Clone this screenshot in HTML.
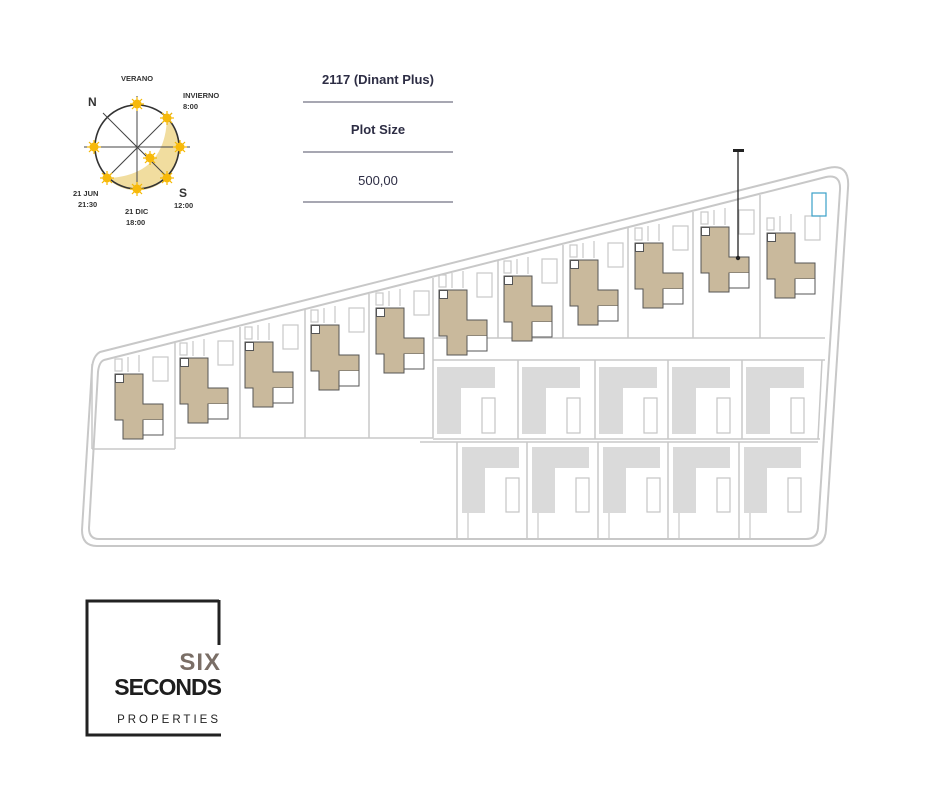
<!DOCTYPE html>
<html><head><meta charset="utf-8"><style>
html,body{margin:0;padding:0;background:#fff;}
svg{display:block;}
text{font-family:"Liberation Sans",sans-serif;}
</style></head><body>
<svg width="940" height="788" viewBox="0 0 940 788" xmlns="http://www.w3.org/2000/svg">
<defs>
<g id="sun">
<g stroke="#f5b800" stroke-width="1.2">
<line x1="-7" y1="0" x2="7" y2="0"/><line x1="0" y1="-7" x2="0" y2="7"/>
<line x1="-5" y1="-5" x2="5" y2="5"/><line x1="-5" y1="5" x2="5" y2="-5"/>
</g>
<circle r="4.5" fill="#f7b90a"/>
</g>
<g id="house">
<g fill="none" stroke="#c8c8c8" stroke-width="1.2">
<rect x="0" y="-15" width="7" height="12"/>
<line x1="13" y1="-17" x2="13" y2="-2"/>
<line x1="24" y1="-19" x2="24" y2="-2"/>
<rect x="38" y="-17" width="15" height="24"/>
</g>
<polygon points="0,0 28,0 28,30 48,30 48,46 28,46 28,65 8,65 8,46 0,46" fill="#c9b99c" stroke="#555" stroke-width="1"/>
<polyline points="28,46 28,61 48,61 48,46" fill="#fff" stroke="#555" stroke-width="1"/>
<rect x="0.5" y="0.5" width="8" height="8" fill="#fff" stroke="#555" stroke-width="1"/>
</g>
<g id="ga">
<rect x="4" y="367" width="58" height="67" fill="#dadada"/>
<rect x="28" y="388" width="34" height="46" fill="#fff"/>
<rect x="49" y="398" width="13" height="35" fill="none" stroke="#c4c4c4" stroke-width="1.2"/>
</g>
<g id="gb">
<rect x="5" y="447" width="57" height="66" fill="#dadada"/>
<rect x="28" y="468" width="34" height="45" fill="#fff"/>
<rect x="49" y="478" width="13" height="34" fill="none" stroke="#c4c4c4" stroke-width="1.2"/>
<line x1="11" y1="513" x2="11" y2="538" stroke="#c8c8c8" stroke-width="1.2"/>
</g>
</defs>

<!-- sun diagram -->
<path d="M167,118 A42,42 0 0 1 107,178 Q165,176 167,118 Z" fill="#f1dd9f"/>
<circle cx="137" cy="147" r="42" fill="none" stroke="#333" stroke-width="1.6"/>
<g stroke="#444" stroke-width="1">
<line x1="84" y1="147" x2="190" y2="147"/>
<line x1="137" y1="96" x2="137" y2="190"/>
<line x1="103" y1="113" x2="170" y2="180"/>
<line x1="107" y1="178" x2="172" y2="113"/>
</g>
<use href="#sun" x="137" y="104"/><use href="#sun" x="167" y="118"/>
<use href="#sun" x="180" y="147"/><use href="#sun" x="150" y="158"/>
<use href="#sun" x="167" y="178"/><use href="#sun" x="137" y="189"/>
<use href="#sun" x="107" y="178"/><use href="#sun" x="94" y="147"/>
<g font-size="7.5" font-weight="bold" fill="#333">
<text x="121" y="81">VERANO</text>
<text x="183" y="98">INVIERNO</text>
<text x="183" y="109">8:00</text>
<text x="73" y="196">21 JUN</text>
<text x="78" y="207">21:30</text>
<text x="125" y="214">21 DIC</text>
<text x="126" y="225">18:00</text>
<text x="174" y="208">12:00</text>
</g>
<text x="88" y="106" font-size="12" font-weight="bold" fill="#333">N</text>
<text x="179" y="197" font-size="12" font-weight="bold" fill="#333">S</text>

<!-- table -->
<g font-size="13" fill="#2d2d44" text-anchor="middle">
<text x="378" y="84" font-weight="bold">2117 (Dinant Plus)</text>
<text x="378" y="134" font-weight="bold">Plot Size</text>
<text x="378" y="185">500,00</text>
</g>
<g stroke="#8a8a98" stroke-width="1.5">
<line x1="303" y1="102" x2="453" y2="102"/>
<line x1="303" y1="152" x2="453" y2="152"/>
<line x1="303" y1="202" x2="453" y2="202"/>
</g>

<!-- site outline -->
<g fill="none" stroke="#c8c8c8" stroke-width="2">
<path d="M100,352 L828,168 Q850,163 848,188 L826,530 Q825,546 810,546 L97,546 Q82,546 82,530 L92,368 Q93,356 100,352 Z"/>
<path d="M104,360 L826,177 Q841,174 840,190 L818,528 Q817,539 806,539 L99,539 Q89,539 89,528 L98,372 Q99,362 104,360 Z"/>
</g>
<!-- plot lines -->
<g stroke="#c8c8c8" stroke-width="1.5" fill="none">
<line x1="92" y1="364" x2="92" y2="449"/>
<line x1="175" y1="343" x2="175" y2="449"/>
<line x1="240" y1="327" x2="240" y2="438"/>
<line x1="305" y1="310" x2="305" y2="438"/>
<line x1="369" y1="294" x2="369" y2="438"/>
<line x1="433" y1="278" x2="433" y2="438"/>
<line x1="498" y1="261" x2="498" y2="338"/>
<line x1="563" y1="245" x2="563" y2="338"/>
<line x1="628" y1="228" x2="628" y2="338"/>
<line x1="693" y1="212" x2="693" y2="338"/>
<line x1="760" y1="195" x2="760" y2="338"/>
<line x1="92" y1="449" x2="175" y2="449"/>
<line x1="175" y1="438" x2="433" y2="438"/>
<line x1="433" y1="338" x2="825" y2="338"/>
<line x1="433" y1="360" x2="825" y2="360"/>
<line x1="433" y1="439" x2="820" y2="439"/>
<line x1="518" y1="360" x2="518" y2="439"/>
<line x1="595" y1="360" x2="595" y2="439"/>
<line x1="668" y1="360" x2="668" y2="439"/>
<line x1="742" y1="360" x2="742" y2="439"/>
<line x1="822" y1="360" x2="818" y2="439"/>
<line x1="420" y1="442" x2="818" y2="442"/>
<line x1="457" y1="442" x2="457" y2="538"/>
<line x1="527" y1="442" x2="527" y2="538"/>
<line x1="598" y1="442" x2="598" y2="538"/>
<line x1="668" y1="442" x2="668" y2="538"/>
<line x1="739" y1="442" x2="739" y2="538"/>
</g>

<!-- tan houses -->
<use href="#house" x="115" y="374"/>
<use href="#house" x="180" y="358"/>
<use href="#house" x="245" y="342"/>
<use href="#house" x="311" y="325"/>
<use href="#house" x="376" y="308"/>
<use href="#house" x="439" y="290"/>
<use href="#house" x="504" y="276"/>
<use href="#house" x="570" y="260"/>
<use href="#house" x="635" y="243"/>
<use href="#house" x="701" y="227"/>
<use href="#house" x="767" y="233"/>

<!-- gray houses -->
<use href="#ga" x="433"/><use href="#ga" x="518"/><use href="#ga" x="595"/><use href="#ga" x="668"/><use href="#ga" x="742"/>
<use href="#gb" x="457"/><use href="#gb" x="527"/><use href="#gb" x="598"/><use href="#gb" x="668"/><use href="#gb" x="739"/>

<rect x="812" y="193" width="14" height="23" fill="none" stroke="#3aa0c8" stroke-width="1.2"/>

<line x1="738" y1="150" x2="738" y2="258" stroke="#222" stroke-width="1.3"/>
<rect x="733" y="149" width="11" height="3" fill="#222"/>
<circle cx="738" cy="258" r="2.2" fill="#222"/>

<!-- logo -->
<path d="M219,601 L87,601 L87,735 L221,735" fill="none" stroke="#222" stroke-width="3"/>
<line x1="219" y1="600" x2="219" y2="645" stroke="#222" stroke-width="3"/>
<text x="221" y="670" font-size="24" font-weight="bold" fill="#7a6e66" text-anchor="end" letter-spacing="1">SIX</text>
<text x="221" y="695" font-size="23" font-weight="bold" fill="#1e1e1e" text-anchor="end" letter-spacing="-1">SECONDS</text>
<text x="221" y="723" font-size="11.5" fill="#222" text-anchor="end" letter-spacing="3">PROPERTIES</text>
</svg>
</body></html>
